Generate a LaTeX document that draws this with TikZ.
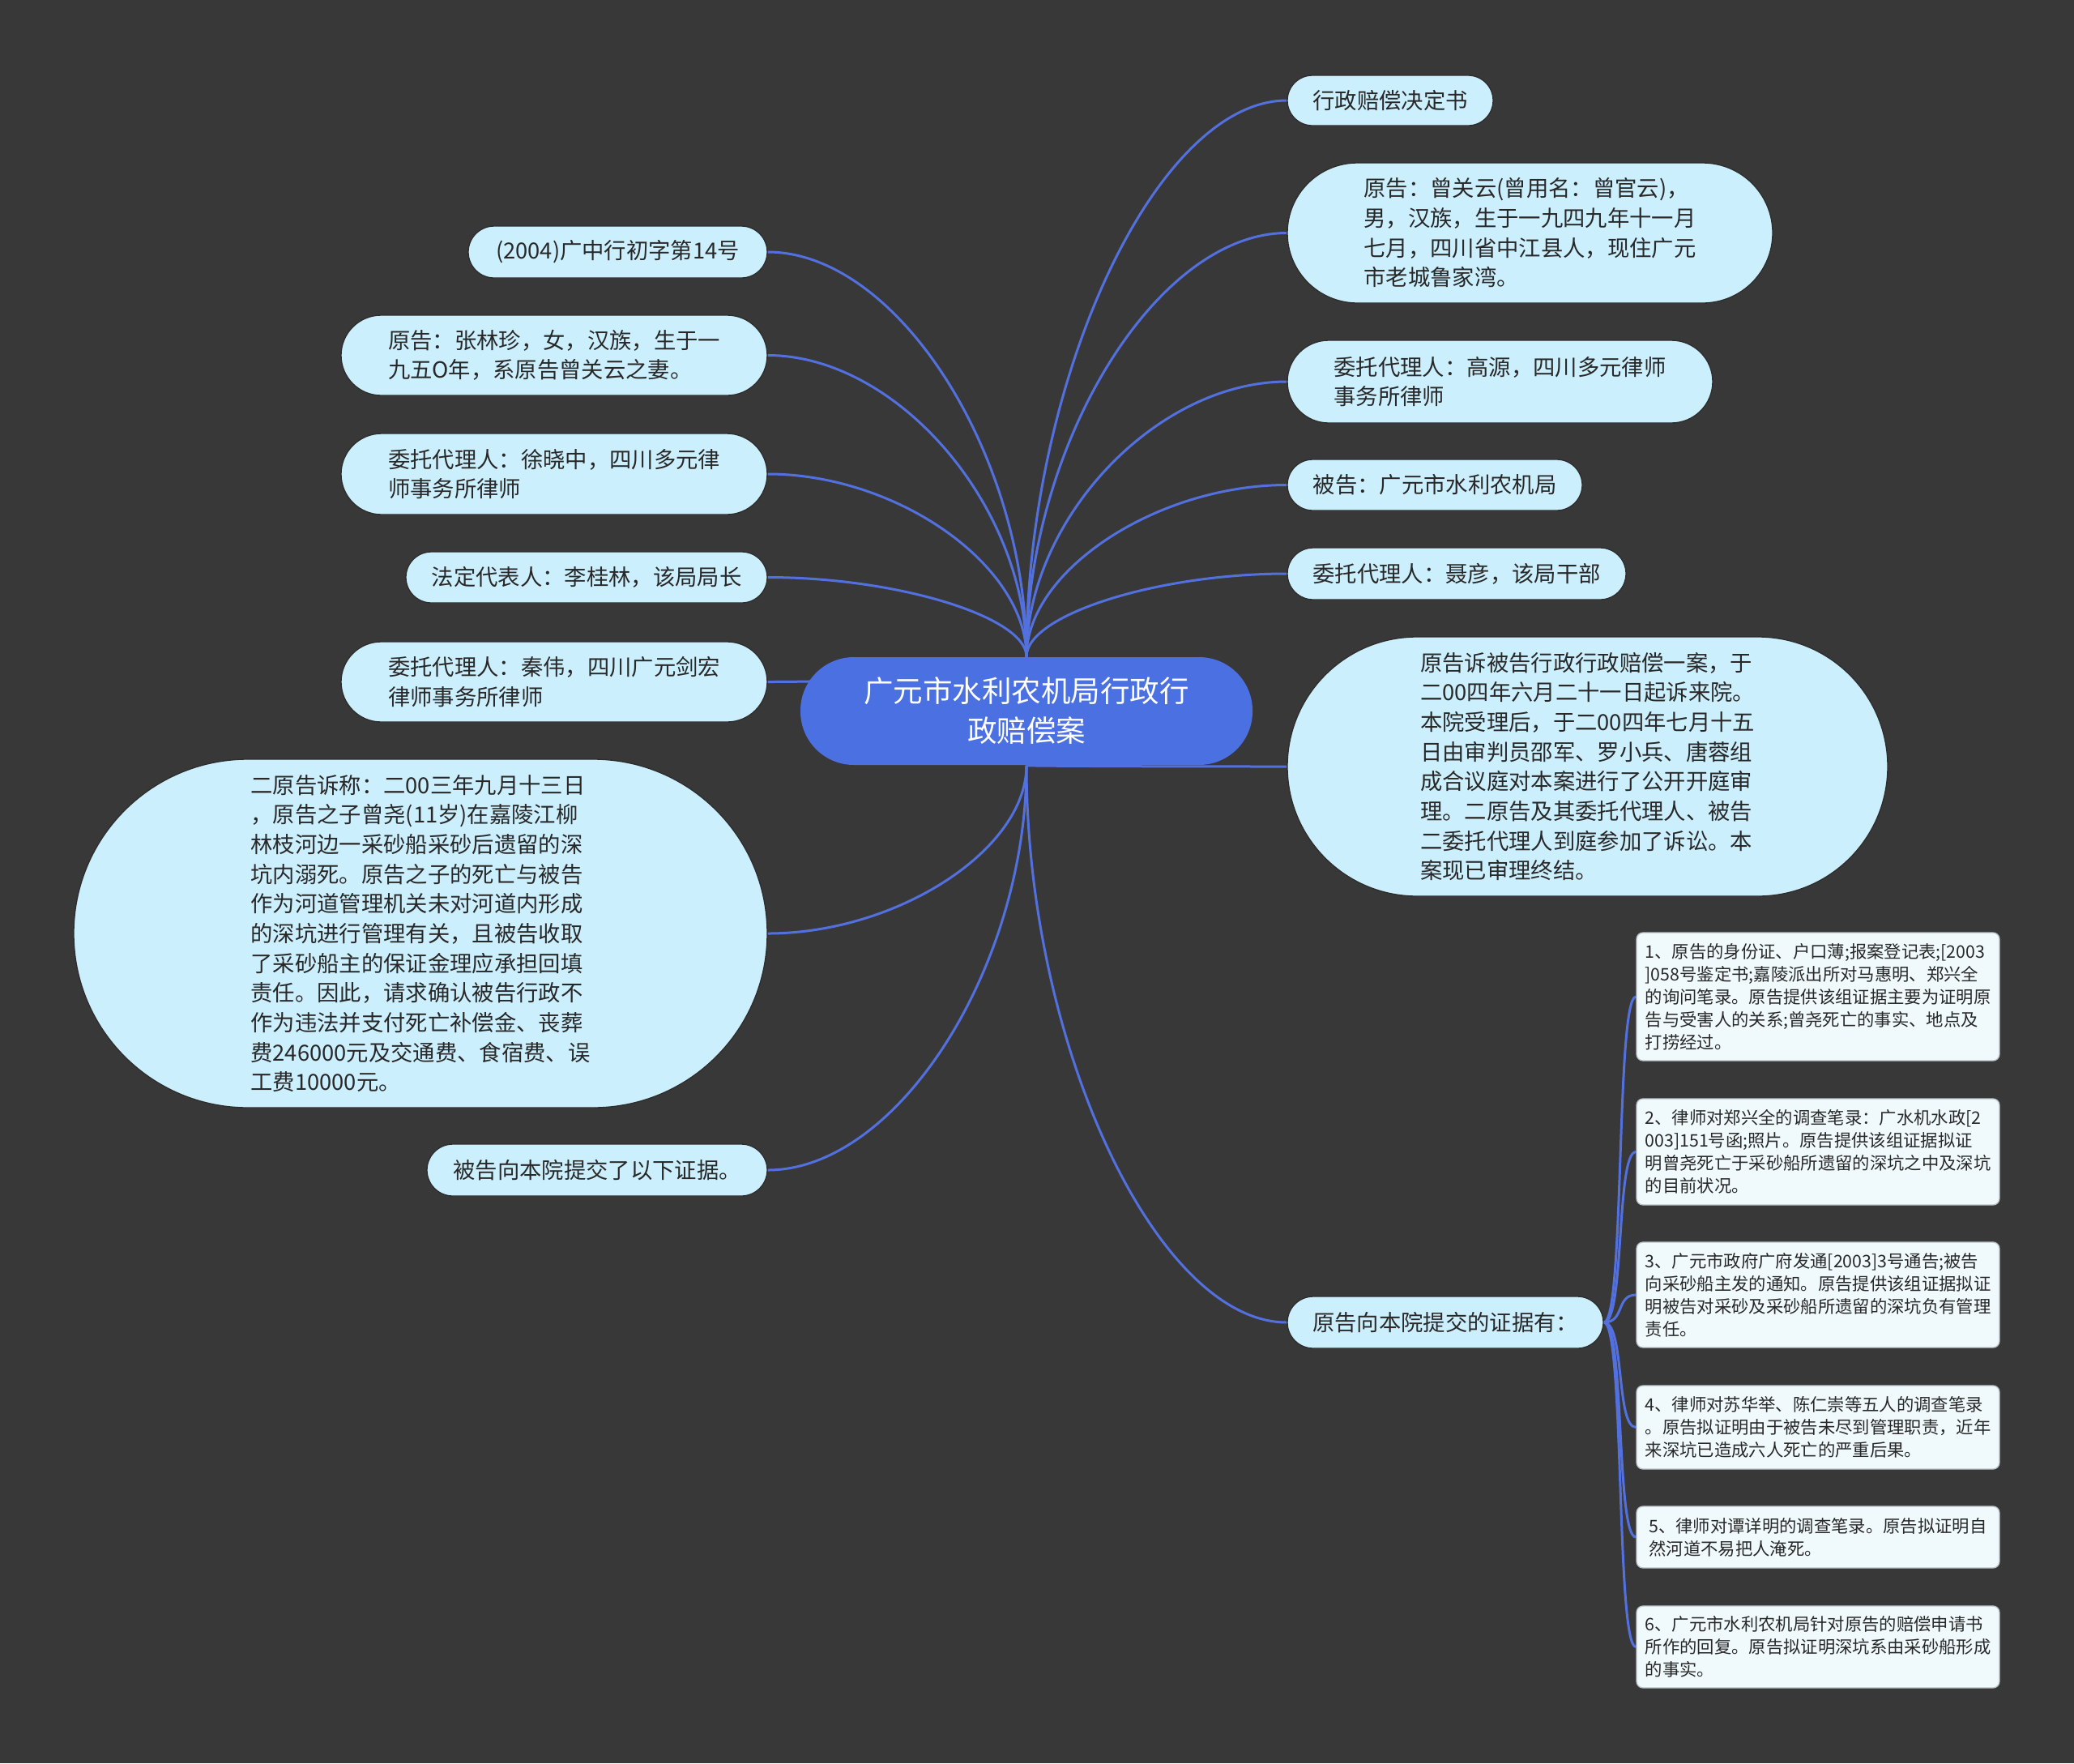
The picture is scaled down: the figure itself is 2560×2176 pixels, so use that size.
\documentclass[tikz,border=0pt]{standalone}
\usepackage{fontspec}
\setmainfont{Noto Sans CJK SC}
\usetikzlibrary{calc}
\definecolor{bgc}{RGB}{57,56,57}
\definecolor{rootc}{RGB}{75,112,226}
\definecolor{leafc}{RGB}{204,239,253}
\definecolor{linec}{RGB}{82,112,222}
\definecolor{evic}{RGB}{240,250,253}
\definecolor{txtc}{RGB}{40,40,40}
\pgfdeclarelayer{bg}\pgfdeclarelayer{edges}\pgfsetlayers{bg,edges,main}
\tikzset{
  leaf/.style 2 args={draw={rgb,255:red,45;green,45;blue,45}, line width=0.4pt, fill=leafc,
    inner sep=0pt, minimum width=#1*0.3pt, minimum height=#2*0.3pt, rounded corners=#2*0.15pt,
    align=left, text=txtc, font=\fontsize{8.2}{11}\selectfont},
  rootnode/.style={fill=rootc, inner sep=0pt, minimum width=558*0.3pt, minimum height=133*0.3pt,
    rounded corners=66*0.3pt, align=center, text=white, font=\fontsize{10.95}{14.7}\selectfont},
  evi/.style={draw={rgb,255:red,185;green,195;blue,200}, line width=0.4pt, fill=evic,
    rounded corners=2.4pt, inner sep=0pt, minimum width=448*0.3pt, minimum height=#1*0.3pt,
    align=left, text=txtc, font=\fontsize{6.4}{8.4}\selectfont},
  edge/.style={draw=linec, line width=0.9pt}
}
\newcommand\rootlink[2]{\draw[edge] (#1) .. controls ($(#1)!0.5!(#1|-#2)$) and ($(#2)!0.5!(#1|-#2)$) .. (#2);}
\newcommand\evilink[1]{\draw[edge] (R7.east) .. controls ($(R7.east)+(26,0)$) and ($(#1.west)+(-25,0)$) .. (#1.west);}
\begin{document}
\begin{tikzpicture}[x=0.3pt,y=-0.3pt]
\begin{pgfonlayer}{bg}\fill[bgc] (0,0) rectangle (2560,2176);\end{pgfonlayer}
\useasboundingbox (0,0) rectangle (2560,2176);

\node[rootnode] (root) at (1267,877.5) {广元市水利农机局行政行\\政赔偿案};

% right side
\node[leaf={254}{62}] (R1) at (1716,124) {行政赔偿决定书};
\node[leaf={599}{173}] (R2) at (1888.5,287.5) {原告：曾关云(曾用名：曾官云)，\\男，汉族，生于一九四九年十一月\\七月，四川省中江县人，现住广元\\市老城鲁家湾。};
\node[leaf={525}{102}] (R3) at (1851.5,471) {委托代理人：高源，四川多元律师\\事务所律师};
\node[leaf={364}{63}] (R4) at (1771,598.5) {被告：广元市水利农机局};
\node[leaf={418}{64}] (R5) at (1798,708) {委托代理人：聂彦，该局干部};
\node[leaf={741}{320}] (R6) at (1959.5,946) {原告诉被告行政行政赔偿一案，于\\二00四年六月二十一日起诉来院。\\本院受理后，于二00四年七月十五\\日由审判员邵军、罗小兵、唐蓉组\\成合议庭对本案进行了公开开庭审\\理。二原告及其委托代理人、被告\\二委托代理人到庭参加了诉讼。本\\案现已审理终结。};
\node[leaf={390}{64}] (R7) at (1784,1632) {原告向本院提交的证据有：};

% left side
\node[leaf={369}{64}] (L1) at (762.5,311) {(2004)广中行初字第14号};
\node[leaf={526}{99}] (L2) at (684,438.5) {原告：张林珍，女，汉族，生于一\\九五O年，系原告曾关云之妻。};
\node[leaf={526}{100}] (L3) at (684,585) {委托代理人：徐晓中，四川多元律\\师事务所律师};
\node[leaf={446}{63}] (L4) at (724,712.5) {法定代表人：李桂林，该局局长};
\node[leaf={526}{99}] (L5) at (684,841.5) {委托代理人：秦伟，四川广元剑宏\\律师事务所律师};
\node[leaf={856}{430}] (L6) at (519,1152) {二原告诉称：二00三年九月十三日\\，原告之子曾尧(11岁)在嘉陵江柳\\林枝河边一采砂船采砂后遗留的深\\坑内溺死。原告之子的死亡与被告\\作为河道管理机关未对河道内形成\\的深坑进行管理有关，且被告收取\\了采砂船主的保证金理应承担回填\\责任。因此，请求确认被告行政不\\作为违法并支付死亡补偿金、丧葬\\费246000元及交通费、食宿费、误\\工费10000元。};
\node[leaf={420}{64}] (L7) at (737,1444) {被告向本院提交了以下证据。};

% evidence
\node[evi={158}] (E1) at (2244,1230) {1、原告的身份证、户口薄;报案登记表;[2003\\]058号鉴定书;嘉陵派出所对马惠明、郑兴全\\的询问笔录。原告提供该组证据主要为证明原\\告与受害人的关系;曾尧死亡的事实、地点及\\打捞经过。};
\node[evi={131}] (E2) at (2244,1421.5) {2、律师对郑兴全的调查笔录：广水机水政[2\\003]151号函;照片。原告提供该组证据拟证\\明曾尧死亡于采砂船所遗留的深坑之中及深坑\\的目前状况。};
\node[evi={130}] (E3) at (2244,1598) {3、广元市政府广府发通[2003]3号通告;被告\\向采砂船主发的通知。原告提供该组证据拟证\\明被告对采砂及采砂船所遗留的深坑负有管理\\责任。};
\node[evi={103}] (E4) at (2244,1761.5) {4、律师对苏华举、陈仁崇等五人的调查笔录\\。原告拟证明由于被告未尽到管理职责，近年\\来深坑已造成六人死亡的严重后果。};
\node[evi={76}] (E5) at (2244,1897) {5、律师对谭详明的调查笔录。原告拟证明自\\然河道不易把人淹死。};
\node[evi={101}] (E6) at (2244,2032.5) {6、广元市水利农机局针对原告的赔偿申请书\\所作的回复。原告拟证明深坑系由采砂船形成\\的事实。};

\begin{pgfonlayer}{edges}
\rootlink{root.north}{R1.west}
\rootlink{root.north}{R2.west}
\rootlink{root.north}{R3.west}
\rootlink{root.north}{R4.west}
\rootlink{root.north}{R5.west}
\rootlink{root.south}{R6.west}
\rootlink{root.south}{R7.west}
\rootlink{root.north}{L1.east}
\rootlink{root.north}{L2.east}
\rootlink{root.north}{L3.east}
\rootlink{root.north}{L4.east}
\rootlink{root.north}{L5.east}
\rootlink{root.south}{L6.east}
\rootlink{root.south}{L7.east}
\evilink{E1}
\evilink{E2}
\evilink{E3}
\evilink{E4}
\evilink{E5}
\evilink{E6}
\end{pgfonlayer}
\end{tikzpicture}
\end{document}
